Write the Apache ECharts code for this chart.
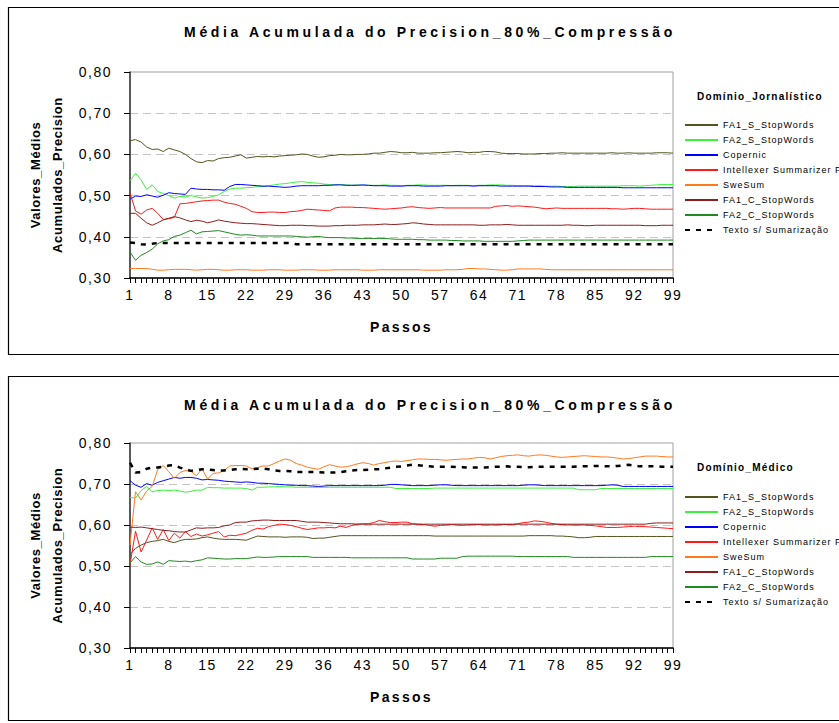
<!DOCTYPE html>
<html>
<head>
<meta charset="utf-8">
<script src="https://cdn.jsdelivr.net/npm/echarts@6/dist/echarts.min.js"></script>
<style>
  html, body { margin: 0; padding: 0; background: #fff; }
  #chart { width: 839px; height: 723px; }
</style>
</head>
<body>
<div id="chart"></div>
<script>
// ---- categories / tick labels ----
const steps = ['1','2','3','4','5','6','7','8','9','10','11','12','13','14','15','16','17','18','19','20',
  '21','22','23','24','25','26','27','28','29','30','31','32','33','34','35','36','37','38','39','40',
  '41','42','43','44','45','46','47','48','49','50','51','52','53','54','55','56','57','58','59','60',
  '61','62','63','64','65','66','67','68','69','70','71','72','73','74','75','76','77','78','79','80',
  '81','82','83','84','85','86','87','88','89','90','91','92','93','94','95','96','97','98','99'];

const chartTitle = 'Média Acumulada do Precision_80%_Compressão';
const domainTop = 'Domínio_Jornalístico';
const domainBottom = 'Domínio_Médico';
const seriesNames = ['FA1_S_StopWords', 'FA2_S_StopWords', 'Copernic', 'Intellexer Summarizer Pro',
  'SweSum', 'FA1_C_StopWords', 'FA2_C_StopWords', 'Texto s/ Sumarização'];

// ---- Domínio Jornalístico ----
const jorFA1S = [.633,.636,.630,.618,.612,.613,.607,.615,.611,.607,
  .600,.590,.582,.580,.585,.584,.590,.592,.593,.596,
  .599,.591,.593,.595,.594,.595,.594,.596,.597,.598,
  .599,.601,.600,.596,.593,.594,.597,.598,.600,.599,
  .599,.600,.600,.601,.603,.603,.605,.607,.606,.604,
  .604,.605,.603,.603,.603,.604,.604,.605,.606,.607,
  .606,.604,.605,.605,.607,.607,.606,.603,.602,.602,
  .602,.601,.601,.601,.602,.602,.603,.603,.604,.603,
  .603,.603,.603,.603,.603,.603,.603,.604,.603,.603,
  .604,.603,.603,.603,.603,.604,.604,.604,.603];
const jorFA2S = [.536,.554,.538,.515,.526,.510,.505,.500,.494,.498,
  .497,.500,.497,.494,.495,.498,.502,.510,.516,.518,
  .518,.519,.520,.522,.522,.524,.526,.528,.529,.531,
  .533,.534,.532,.531,.530,.528,.527,.526,.527,.526,
  .525,.526,.525,.525,.525,.525,.526,.525,.525,.524,
  .525,.525,.526,.526,.525,.525,.525,.525,.524,.525,
  .525,.525,.524,.525,.525,.526,.526,.526,.525,.525,
  .524,.524,.524,.524,.524,.523,.523,.523,.522,.522,
  .522,.523,.523,.523,.523,.523,.523,.523,.523,.524,
  .524,.524,.523,.524,.525,.526,.527,.527,.527];
const jorCopernic = [.491,.499,.498,.502,.499,.496,.501,.507,.505,.504,
  .503,.518,.516,.515,.515,.514,.514,.513,.522,.527,
  .527,.526,.525,.524,.523,.523,.522,.521,.520,.521,
  .523,.524,.524,.524,.524,.525,.525,.526,.526,.525,
  .525,.525,.526,.525,.524,.524,.524,.523,.523,.523,
  .524,.524,.524,.523,.523,.523,.523,.524,.524,.524,
  .524,.524,.523,.524,.524,.524,.524,.523,.523,.523,
  .523,.523,.523,.522,.522,.522,.521,.521,.521,.520,
  .520,.520,.520,.520,.520,.520,.520,.520,.520,.519,
  .519,.519,.519,.519,.519,.519,.519,.519,.519];
const jorIntellexer = [.506,.463,.455,.465,.469,.457,.442,.444,.447,.480,
  .481,.483,.485,.487,.488,.489,.489,.484,.481,.479,
  .474,.469,.461,.459,.459,.460,.460,.459,.459,.461,
  .462,.464,.467,.466,.465,.464,.463,.470,.472,.472,
  .472,.471,.471,.470,.469,.468,.467,.468,.469,.470,
  .472,.473,.471,.470,.469,.470,.471,.470,.470,.470,
  .470,.470,.470,.470,.470,.470,.474,.475,.476,.474,
  .475,.474,.473,.472,.470,.468,.469,.470,.469,.469,
  .469,.469,.469,.469,.469,.469,.469,.468,.468,.467,
  .468,.469,.469,.468,.467,.467,.467,.467,.467];
const jorSweSum = [.323,.323,.323,.323,.321,.319,.319,.320,.321,.321,
  .321,.320,.319,.320,.321,.321,.320,.319,.319,.320,
  .320,.320,.319,.319,.319,.320,.320,.320,.319,.319,
  .319,.320,.320,.320,.319,.319,.319,.320,.320,.320,
  .320,.320,.319,.319,.319,.320,.320,.320,.320,.320,
  .320,.320,.320,.319,.319,.319,.319,.320,.320,.320,
  .321,.323,.323,.322,.322,.321,.320,.319,.319,.320,
  .322,.322,.322,.322,.322,.321,.320,.320,.320,.320,
  .320,.320,.320,.320,.320,.320,.320,.320,.320,.320,
  .320,.320,.320,.320,.320,.320,.320,.320,.320];
const jorFA1C = [.457,.457,.445,.434,.428,.434,.441,.445,.449,.446,
  .441,.437,.440,.438,.434,.437,.441,.438,.436,.434,
  .433,.432,.432,.431,.430,.429,.428,.427,.427,.428,
  .428,.428,.427,.427,.426,.426,.426,.427,.427,.428,
  .428,.428,.429,.429,.429,.430,.431,.430,.430,.431,
  .432,.434,.433,.431,.430,.429,.429,.429,.429,.429,
  .429,.429,.429,.428,.428,.429,.429,.429,.430,.429,
  .428,.428,.428,.428,.428,.428,.428,.428,.428,.429,
  .428,.428,.427,.427,.428,.428,.428,.428,.428,.428,
  .428,.428,.428,.427,.427,.427,.428,.428,.428];
const jorFA2C = [.363,.343,.355,.362,.370,.383,.390,.393,.401,.404,
  .410,.416,.407,.412,.413,.414,.415,.412,.409,.406,
  .404,.405,.404,.402,.402,.402,.402,.402,.402,.402,
  .401,.400,.399,.400,.401,.399,.398,.398,.398,.397,
  .397,.396,.396,.396,.396,.396,.396,.395,.394,.394,
  .394,.394,.393,.393,.392,.392,.392,.392,.391,.391,
  .390,.390,.390,.390,.389,.389,.389,.389,.389,.389,
  .390,.391,.392,.392,.392,.392,.392,.392,.392,.392,
  .392,.392,.392,.392,.392,.392,.392,.392,.392,.392,
  .392,.392,.392,.392,.392,.392,.392,.392,.392];
const jorTexto = [.386,.385,.382,.381,.383,.385,.385,.385,.385,.385,
  .385,.385,.385,.385,.385,.385,.385,.385,.385,.385,
  .385,.385,.385,.385,.385,.385,.385,.385,.385,.385,
  .382,.382,.382,.382,.382,.382,.382,.382,.382,.382,
  .382,.382,.382,.382,.382,.382,.382,.382,.382,.382,
  .382,.382,.382,.382,.382,.382,.382,.382,.382,.382,
  .382,.382,.382,.382,.382,.382,.382,.382,.382,.382,
  .382,.382,.382,.382,.382,.382,.382,.382,.382,.382,
  .382,.382,.382,.382,.382,.382,.382,.382,.382,.382,
  .382,.382,.382,.382,.382,.382,.382,.382,.382];

// ---- Domínio Médico ----
const medFA1S = [.528,.543,.551,.557,.560,.562,.565,.560,.557,.562,
  .565,.565,.566,.569,.571,.568,.566,.565,.565,.565,
  .564,.563,.568,.573,.572,.571,.571,.571,.570,.571,
  .571,.571,.570,.567,.568,.568,.570,.572,.574,.574,
  .574,.574,.574,.574,.574,.574,.574,.574,.574,.574,
  .574,.574,.574,.574,.574,.573,.573,.573,.573,.573,
  .573,.573,.573,.573,.573,.573,.573,.573,.573,.573,
  .573,.573,.574,.574,.574,.574,.574,.573,.573,.572,
  .571,.569,.569,.570,.572,.572,.572,.572,.572,.572,
  .572,.572,.572,.572,.572,.572,.572,.572,.572];
const medFA2S = [.667,.666,.684,.694,.681,.684,.685,.684,.685,.683,
  .680,.682,.685,.685,.692,.691,.691,.690,.690,.690,
  .690,.689,.685,.692,.692,.693,.693,.694,.693,.693,
  .692,.692,.692,.692,.692,.692,.692,.692,.692,.692,
  .692,.692,.692,.692,.692,.692,.692,.692,.689,.689,
  .689,.689,.689,.689,.689,.690,.690,.690,.690,.690,
  .690,.690,.690,.690,.690,.690,.690,.690,.690,.690,
  .690,.690,.690,.690,.690,.690,.690,.690,.690,.690,
  .690,.686,.686,.686,.686,.689,.689,.689,.689,.689,
  .689,.689,.689,.689,.689,.689,.689,.689,.689];
const medCopernic = [.708,.697,.692,.701,.697,.704,.708,.712,.716,.714,
  .716,.716,.714,.710,.711,.710,.709,.707,.706,.705,
  .704,.705,.704,.702,.702,.701,.700,.699,.698,.697,
  .697,.696,.696,.695,.694,.695,.696,.696,.696,.696,
  .696,.696,.696,.696,.696,.696,.697,.699,.699,.698,
  .697,.696,.696,.696,.696,.697,.698,.698,.697,.696,
  .696,.696,.696,.696,.696,.696,.696,.696,.696,.696,
  .696,.697,.698,.698,.697,.696,.696,.696,.696,.696,
  .696,.696,.696,.696,.696,.696,.697,.698,.697,.694,
  .694,.694,.694,.694,.694,.694,.694,.694,.694];
const medIntellexer = [.503,.585,.534,.563,.593,.565,.589,.562,.580,.568,
  .584,.572,.578,.573,.576,.580,.584,.571,.575,.574,
  .577,.580,.587,.592,.590,.596,.599,.602,.601,.599,
  .596,.592,.589,.591,.593,.593,.594,.593,.597,.594,
  .599,.602,.603,.603,.606,.611,.608,.606,.606,.607,
  .607,.603,.602,.601,.599,.597,.599,.600,.601,.600,
  .599,.600,.601,.601,.600,.600,.600,.601,.601,.601,
  .603,.606,.607,.610,.609,.607,.604,.602,.601,.600,
  .600,.600,.600,.599,.598,.596,.594,.594,.594,.595,
  .596,.597,.596,.596,.595,.594,.593,.592,.591];
const medSweSum = [.551,.681,.661,.683,.694,.735,.745,.730,.714,.728,
  .733,.731,.720,.737,.712,.726,.727,.733,.744,.745,
  .745,.744,.737,.740,.744,.744,.750,.756,.761,.758,
  .750,.746,.741,.738,.736,.742,.747,.744,.741,.742,
  .745,.749,.752,.750,.746,.750,.752,.755,.756,.755,
  .757,.759,.761,.761,.760,.760,.759,.758,.759,.760,
  .761,.761,.763,.765,.764,.761,.764,.767,.769,.770,
  .771,.769,.768,.770,.771,.770,.768,.766,.765,.766,
  .767,.768,.769,.768,.767,.766,.766,.765,.763,.761,
  .762,.764,.766,.768,.768,.768,.767,.766,.766];
const medFA1C = [.595,.594,.595,.593,.591,.589,.587,.586,.584,.583,
  .583,.588,.593,.592,.593,.593,.594,.598,.600,.606,
  .607,.607,.610,.611,.612,.612,.611,.611,.611,.611,
  .611,.609,.607,.607,.607,.606,.605,.604,.603,.603,
  .603,.602,.602,.602,.602,.602,.602,.602,.602,.602,
  .602,.602,.602,.602,.602,.602,.602,.602,.602,.602,
  .602,.602,.602,.602,.602,.602,.602,.602,.602,.602,
  .602,.602,.602,.602,.602,.602,.602,.602,.602,.602,
  .602,.602,.602,.602,.602,.602,.602,.602,.602,.602,
  .602,.602,.602,.602,.604,.605,.605,.605,.605];
const medFA2C = [.507,.523,.510,.504,.505,.510,.504,.513,.512,.511,
  .512,.510,.513,.515,.520,.519,.518,.517,.517,.518,
  .518,.518,.520,.522,.521,.521,.522,.523,.523,.523,
  .523,.523,.523,.521,.521,.521,.521,.521,.521,.521,
  .520,.520,.520,.520,.520,.520,.520,.520,.520,.520,
  .520,.517,.517,.517,.517,.517,.519,.519,.519,.519,
  .523,.524,.524,.524,.524,.524,.524,.524,.524,.524,
  .523,.523,.523,.523,.523,.523,.523,.523,.523,.523,
  .521,.521,.521,.521,.521,.521,.521,.521,.521,.521,
  .521,.521,.521,.521,.523,.523,.523,.523,.523];
const medTexto = [.752,.728,.729,.737,.740,.740,.742,.745,.746,.740,
  .736,.732,.734,.736,.735,.734,.733,.733,.734,.736,
  .737,.736,.736,.737,.738,.736,.733,.732,.732,.731,
  .729,.729,.729,.729,.729,.728,.728,.728,.729,.731,
  .733,.734,.734,.735,.736,.736,.738,.740,.742,.743,
  .745,.747,.746,.744,.743,.742,.742,.742,.742,.741,
  .741,.740,.740,.740,.740,.741,.742,.742,.743,.742,
  .742,.741,.741,.742,.742,.742,.742,.742,.742,.742,
  .742,.743,.743,.743,.744,.744,.743,.743,.744,.745,
  .747,.745,.743,.743,.743,.743,.742,.742,.742];

const jorData = [jorFA1S, jorFA2S, jorCopernic, jorIntellexer, jorSweSum, jorFA1C, jorFA2C, jorTexto];
const medData = [medFA1S, medFA2S, medCopernic, medIntellexer, medSweSum, medFA1C, medFA2C, medTexto];

// ---- styling ----
const FONT = '"Liberation Sans", Arial, sans-serif';
const lineColors = ['#55541f', '#3cf23c', '#0000ff', '#ff1a1a', '#ff7a1f', '#8e1d1d', '#1f8a1f', '#000000'];

function lineStyleFor(i) {
  if (i === 7) return { color: '#000', width: 2.5, type: [5, 6] };
  return { color: lineColors[i], width: 1 };
}

function seriesFor(dataSets, idx) {
  return dataSets.map((d, i) => ({
    name: seriesNames[i],
    type: 'line',
    xAxisIndex: idx,
    yAxisIndex: idx,
    data: d,
    symbol: 'none',
    smooth: false,
    itemStyle: { color: lineColors[i] },
    lineStyle: lineStyleFor(i),
    z: i === 7 ? 3 : 2,
    silent: true
  }));
}

function xAxisFor(idx) {
  return {
    type: 'category', gridIndex: idx, data: steps, boundaryGap: false,
    axisLine: { lineStyle: { color: '#000', width: 1.5 } },
    axisTick: { interval: 0, length: 5, lineStyle: { color: '#000', width: 1 } },
    axisLabel: { interval: 6, margin: 10, fontSize: 14, color: '#000', fontFamily: FONT },
    splitLine: { show: false },
    name: 'Passos', nameLocation: 'middle', nameGap: 42,
    nameTextStyle: { fontSize: 14, fontWeight: 'bold', color: '#000', fontFamily: FONT }
  };
}

function yAxisFor(idx) {
  return {
    type: 'value', gridIndex: idx, min: 0.3, max: 0.8, interval: 0.1,
    axisLine: { show: true, lineStyle: { color: '#333', width: 1.5 } },
    axisTick: { show: true, length: 6, lineStyle: { color: '#000', width: 1 } },
    axisLabel: {
      margin: 18, fontSize: 14, color: '#000', fontFamily: FONT,
      formatter: v => v.toFixed(2).replace('.', ',')
    },
    splitLine: { show: true, showMinLine: false, showMaxLine: false,
      lineStyle: { color: '#c4c4c4', type: [8, 5], width: 1 } },
    name: 'Valores_Médios\nAcumulados_Precision', nameLocation: 'middle', nameRotate: 90, nameGap: 62,
    nameTextStyle: { fontSize: 13, fontWeight: 'bold', color: '#000', fontFamily: FONT, lineHeight: 22 }
  };
}

function legendFor(top) {
  return {
    orient: 'vertical', left: 684, top: top, padding: 0,
    itemWidth: 33, itemHeight: 10, itemGap: 5,
    selectedMode: false,
    data: seriesNames,
    // line samples only, no marker in the middle
    itemStyle: { opacity: 0 },
    textStyle: { fontSize: 9, color: '#000', fontFamily: FONT, lineHeight: 10 }
  };
}

const titleStyle = { fontSize: 14, fontWeight: 'bold', color: '#000', fontFamily: FONT };
const domainStyle = { fontSize: 10, fontWeight: 'bold', color: '#000', fontFamily: FONT };

const chart = echarts.init(document.getElementById('chart'), null, { renderer: 'svg' });
chart.setOption({
  animation: false,
  backgroundColor: '#fff',
  title: [
    { text: chartTitle, left: 430, top: 25, textAlign: 'center', padding: 0, textStyle: titleStyle },
    { text: domainTop, left: 697, top: 91, padding: 0, textStyle: domainStyle },
    { text: chartTitle, left: 430, top: 398, textAlign: 'center', padding: 0, textStyle: titleStyle },
    { text: domainBottom, left: 697, top: 462, padding: 0, textStyle: domainStyle }
  ],
  legend: [legendFor(120), legendFor(492)],
  grid: [
    { left: 130, top: 72, width: 543, height: 206, show: true, borderColor: '#a0a0a0', borderWidth: 1, backgroundColor: '#fff' },
    { left: 130, top: 443, width: 543, height: 205, show: true, borderColor: '#a0a0a0', borderWidth: 1, backgroundColor: '#fff' }
  ],
  xAxis: [xAxisFor(0), xAxisFor(1)],
  yAxis: [yAxisFor(0), yAxisFor(1)],
  graphic: [
    { type: 'rect', silent: true, z: -10, shape: { x: 8.5, y: 7.5, width: 840, height: 347 },
      style: { fill: 'none', stroke: '#000', lineWidth: 1.2 } },
    { type: 'rect', silent: true, z: -10, shape: { x: 8.5, y: 376.5, width: 840, height: 344 },
      style: { fill: 'none', stroke: '#000', lineWidth: 1.2 } }
  ],
  series: seriesFor(jorData, 0).concat(seriesFor(medData, 1))
});

// widen the tracking of the text the way the printed figure sets it
function applySpacing() {
  document.querySelectorAll('#chart text').forEach(t => {
    const cs = getComputedStyle(t);
    const size = parseFloat(cs.fontSize);
    const bold = cs.fontWeight === 'bold' || parseInt(cs.fontWeight, 10) >= 600;
    let sp;
    if (bold && size >= 14) sp = (t.textContent === 'Passos') ? 2.3 : 3.65;
    else if (size >= 14) sp = 1.5;
    else if (bold && size >= 12) sp = 0.6;
    else if (bold) sp = 1.2;
    else sp = 1;
    t.setAttribute('letter-spacing', sp + 'px');
  });
}
applySpacing();
chart.on('finished', applySpacing);
</script>
</body>
</html>
